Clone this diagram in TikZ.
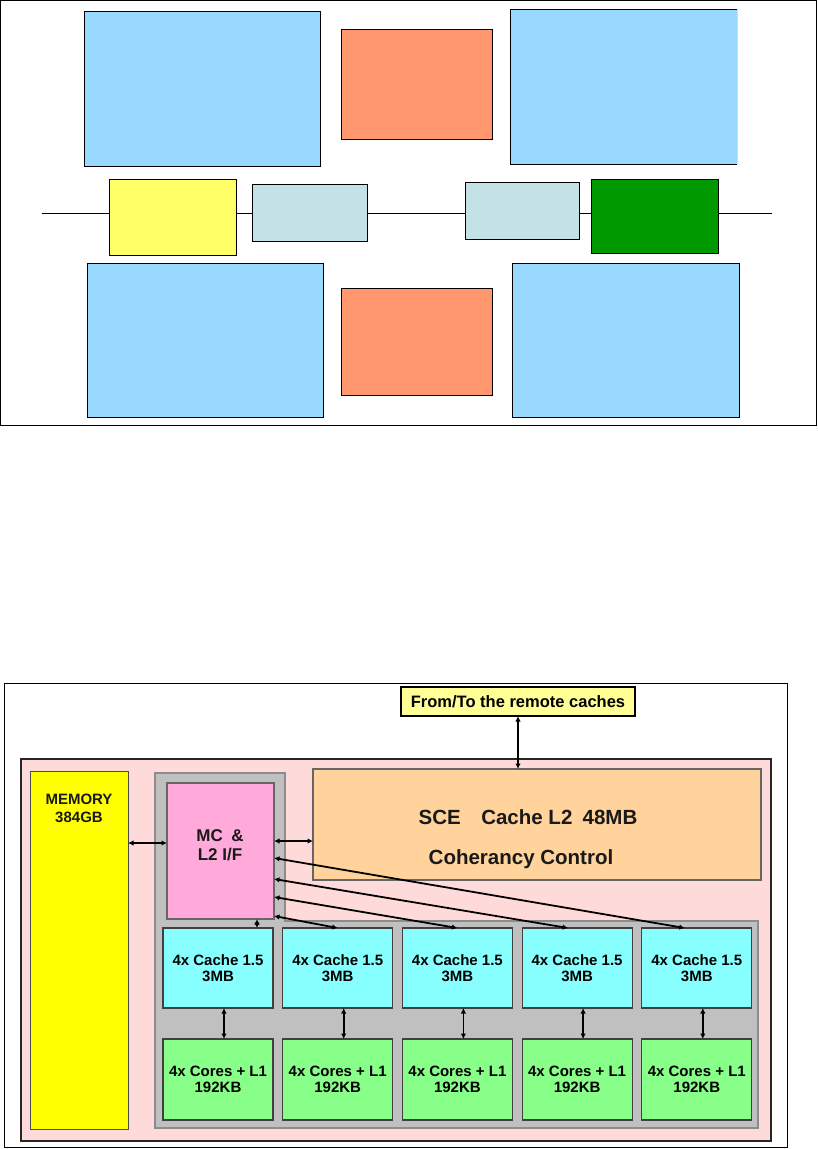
\documentclass[tikz,border=0pt]{standalone}
\usepackage{fontspec}
\setmainfont{Liberation Sans}
\usetikzlibrary{arrows.meta, positioning}

\definecolor{skyblue}{RGB}{153,216,255}
\definecolor{salmon}{RGB}{255,150,110}
\definecolor{paleyellow}{RGB}{255,255,102}
\definecolor{steelgrey}{RGB}{196,226,230}
\definecolor{darkgreen}{RGB}{0,153,0}
\definecolor{chippink}{RGB}{255,218,218}
\definecolor{memyellow}{RGB}{255,255,0}
\definecolor{boardgrey}{RGB}{192,192,192}
\definecolor{sceorange}{RGB}{255,211,155}
\definecolor{mcpink}{RGB}{255,170,218}
\definecolor{cachecyan}{RGB}{136,255,255}
\definecolor{coregreen}{RGB}{136,255,136}
\definecolor{labelyellow}{RGB}{255,255,150}

\begin{document}
\begin{tikzpicture}[
  x=1pt, y=-1pt,
  line width=0.8pt,
  box/.style={draw, inner sep=0pt, outer sep=0pt},
  unit/.style={box, draw=black!75, line width=1.2pt, align=center,
    font=\fontsize{15}{16.5}\selectfont\bfseries,
    minimum width=110, minimum height=80},
  biarrow/.style={line width=1.8pt,
    {Latex[length=5.5pt,width=5.5pt]}-{Latex[length=5.5pt,width=5.5pt]}}
]
\tikzstyle{caption}=[inner sep=0pt, align=center, text=black!90]
\useasboundingbox (0,0) rectangle (817,1149);

% Floor plan
\draw (0.5,0.5) rectangle (816,425);
\coordinate (busw) at (42,213);
\coordinate (buse) at (772,213);
\draw (busw) -- (buse);

\node [box, fill=skyblue, minimum width=236, minimum height=155] (tlblue) at (202,88.5) {};
\node [box, fill=salmon, minimum width=151, minimum height=110] (torange) at (416.5,84) {};
\node [box, fill=skyblue, draw=none, minimum width=227, minimum height=155] (trblue) at (623.5,86.5) {};
\draw (trblue.north east) -- (trblue.north west) -- (trblue.south west) -- (trblue.south east);
\draw [black!15] (trblue.north east) -- (trblue.south east);

\node [box, fill=paleyellow, minimum width=127, minimum height=76] (ylw) at (172.5,217) {};
\node [box, fill=steelgrey, minimum width=115, minimum height=57] (sgl) at (309.5,212.5) {};
\node [box, fill=steelgrey, minimum width=114, minimum height=57] (sgr) at (522,210.5) {};
\node [box, fill=darkgreen, minimum width=127, minimum height=74] (grn) at (654.5,216) {};

\node [box, fill=skyblue, minimum width=236, minimum height=154] (blblue) at (205,340) {};
\node [box, fill=salmon, minimum width=151, minimum height=107] (borange) at (416.5,341.5) {};
\node [box, fill=skyblue, minimum width=227, minimum height=154] (brblue) at (625.5,340) {};

% Book structure
\draw (4.5,683.5) rectangle (787,1147);
\node [box, fill=labelyellow, line width=1.6pt, minimum width=234, minimum height=29,
  font=\fontsize{16.5}{18}\selectfont\bfseries] (remote) at (518,701.5) {From/To the remote caches};
\node [box, fill=chippink, draw=black!85, line width=1.6pt, minimum width=750, minimum height=382] (chip) at (396,950) {};

\node [box, fill=memyellow, draw=black!70, minimum width=98, minimum height=358] (mem) at (79,950) {};
\node [caption, font=\fontsize{15}{18}\selectfont\bfseries] (memtxt) at (79,808) {MEMORY\\384GB};

\draw [fill=boardgrey, draw=black!45, line width=1.2pt]
  (155,773) -- (285,773) -- (285,921) -- (758,921) -- (758,1128) -- (155,1128) -- cycle;

\node [box, fill=sceorange, draw=black!60, line width=1.2pt, minimum width=448, minimum height=111] (sce) at (537,824.5) {};
\node [caption, font=\fontsize{20.5}{22}\selectfont\bfseries] (scetop) at (528,817) {SCE\quad Cache L2\enspace 48MB};
\node [caption, font=\fontsize{20.5}{22}\selectfont\bfseries] (scebot) at (521,859) {Coherancy Control};

\node [box, fill=mcpink, draw=black!60, line width=1.2pt, minimum width=107, minimum height=136] (mc) at (220.5,851) {};
\node [caption, font=\fontsize{17}{19}\selectfont\bfseries] (mctxt) at (220,845.5) {MC\enspace\&\\L2 I/F};

\foreach \i in {1,...,5} {
  \node [unit, fill=cachecyan] (c\i) at ({218+119.7*(\i-1)},968) {4x Cache 1.5\\3MB};
  \node [unit, fill=coregreen, minimum height=81] (k\i) at ({218+119.7*(\i-1)},1079.5) {4x Cores + L1\\192KB};
  \draw [biarrow] ([xshift=6]c\i.south) -- ([xshift=6]k\i.north);
}

% Links
\draw [biarrow] (remote) -- (remote |- sce.north);
\coordinate (mcw) at ([yshift=8]mc.west);
\draw [biarrow] (mem.east |- mcw) -- (mcw);
\coordinate (mce) at ([yshift=10]mc.east);
\draw [biarrow] (mce) -- (sce.west |- mce);
\foreach \c/\dy/\dx in {2/-65/0, 3/-46/0, 4/-28/-9, 5/-7/-12}
  \draw [biarrow] ([yshift=\dy]mc.east) -- ([xshift=\dx]c\c.north);
\coordinate (c1n) at ([xshift=39]c1.north);
\draw [biarrow] (c1n |- mc.south) -- (c1n);

\end{tikzpicture}
\end{document}
